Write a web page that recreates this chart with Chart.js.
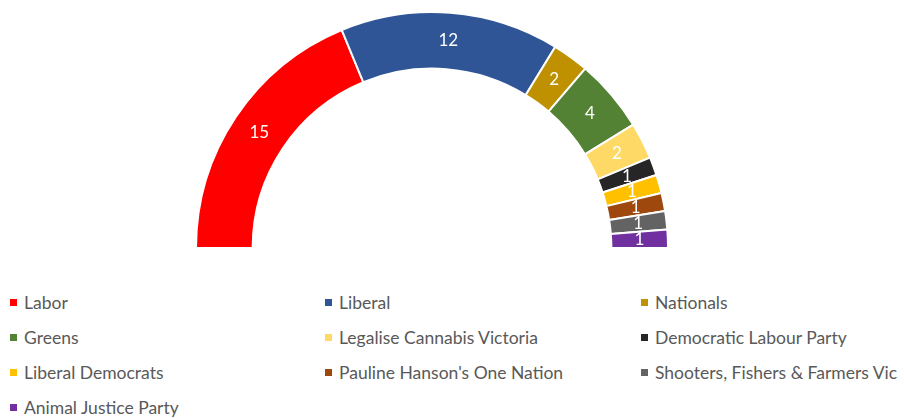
<!DOCTYPE html>
<html>
<head>
<meta charset="utf-8">
<script src="https://cdn.jsdelivr.net/npm/chart.js@4"></script>
<style>
  body { margin: 0; background: #fff; width: 904px; height: 418px; overflow: hidden; position: relative; }
  #wrap { position: absolute; left: 195px; top: 11px; width: 474px; height: 238px; }
  #legend { position: absolute; left: 10px; top: 291px; display: grid; grid-template-columns: 315px 316px 260px; grid-auto-rows: 35px;
    font-family: Lato, "Open Sans", sans-serif; font-size: 17.5px; color: #595959; }
  .item { display: flex; align-items: center; white-space: nowrap; height: 22px; }
  .box { width: 7px; height: 7px; margin-right: 7px; flex: none; }
</style>
</head>
<body>
<div id="wrap"><canvas id="ShowChart"></canvas></div>
<div id="legend"></div>
<script>
var Party_Labels = ["Labor", "Liberal", "Nationals", "Greens", "Legalise Cannabis Victoria", "Democratic Labour Party",
  "Liberal Democrats", "Pauline Hanson's One Nation", "Shooters, Fishers & Farmers Vic", "Animal Justice Party"]
var Seats = [15, 12, 2, 4, 2, 1, 1, 1, 1, 1]
var Party_Colors = ["#FF0000", "#2F5597", "#BF9000", "#548235", "#FFD966", "#262626",
  "#FFC000", "#9E480E", "#636363", "#7030A0"]

// white numbers in the middle of each arc
var Arc_Labels = {
  id: "arcLabels",
  afterDatasetsDraw: function(chart){
    var ctx = chart.ctx
    var meta = chart.getDatasetMeta(0)
    ctx.save()
    ctx.fillStyle = "#ffffff"
    ctx.font = "17px Lato, 'Open Sans', sans-serif"
    ctx.textAlign = "center"
    ctx.textBaseline = "middle"
    for (var i = 0; i < meta.data.length; i++){
      var p = meta.data[i].tooltipPosition()
      ctx.fillText(String(Seats[i]), p.x, p.y)
    }
    ctx.restore()
  }
}

var ctx = document.getElementById("ShowChart").getContext("2d")
var ChartObject = new Chart(ctx, {
  type: "doughnut",
  data: {
    labels: Party_Labels,
    datasets: [{
      data: Seats,
      backgroundColor: Party_Colors,
      borderColor: "#ffffff",
      borderWidth: 2
    }]
  },
  options: {
    responsive: true,
    maintainAspectRatio: false,
    animation: false,
    rotation: -90,
    circumference: 180,
    cutout: "76%",
    plugins: {
      legend: { display: false },
      tooltip: { enabled: false }
    }
  },
  plugins: [Arc_Labels]
})

var legend = document.getElementById("legend")
for (var i = 0; i < Party_Labels.length; i++){
  var item = document.createElement("div")
  item.className = "item"
  var box = document.createElement("span")
  box.className = "box"
  box.style.background = Party_Colors[i]
  var txt = document.createElement("span")
  txt.textContent = Party_Labels[i]
  item.appendChild(box)
  item.appendChild(txt)
  legend.appendChild(item)
}
</script>
</body>
</html>
